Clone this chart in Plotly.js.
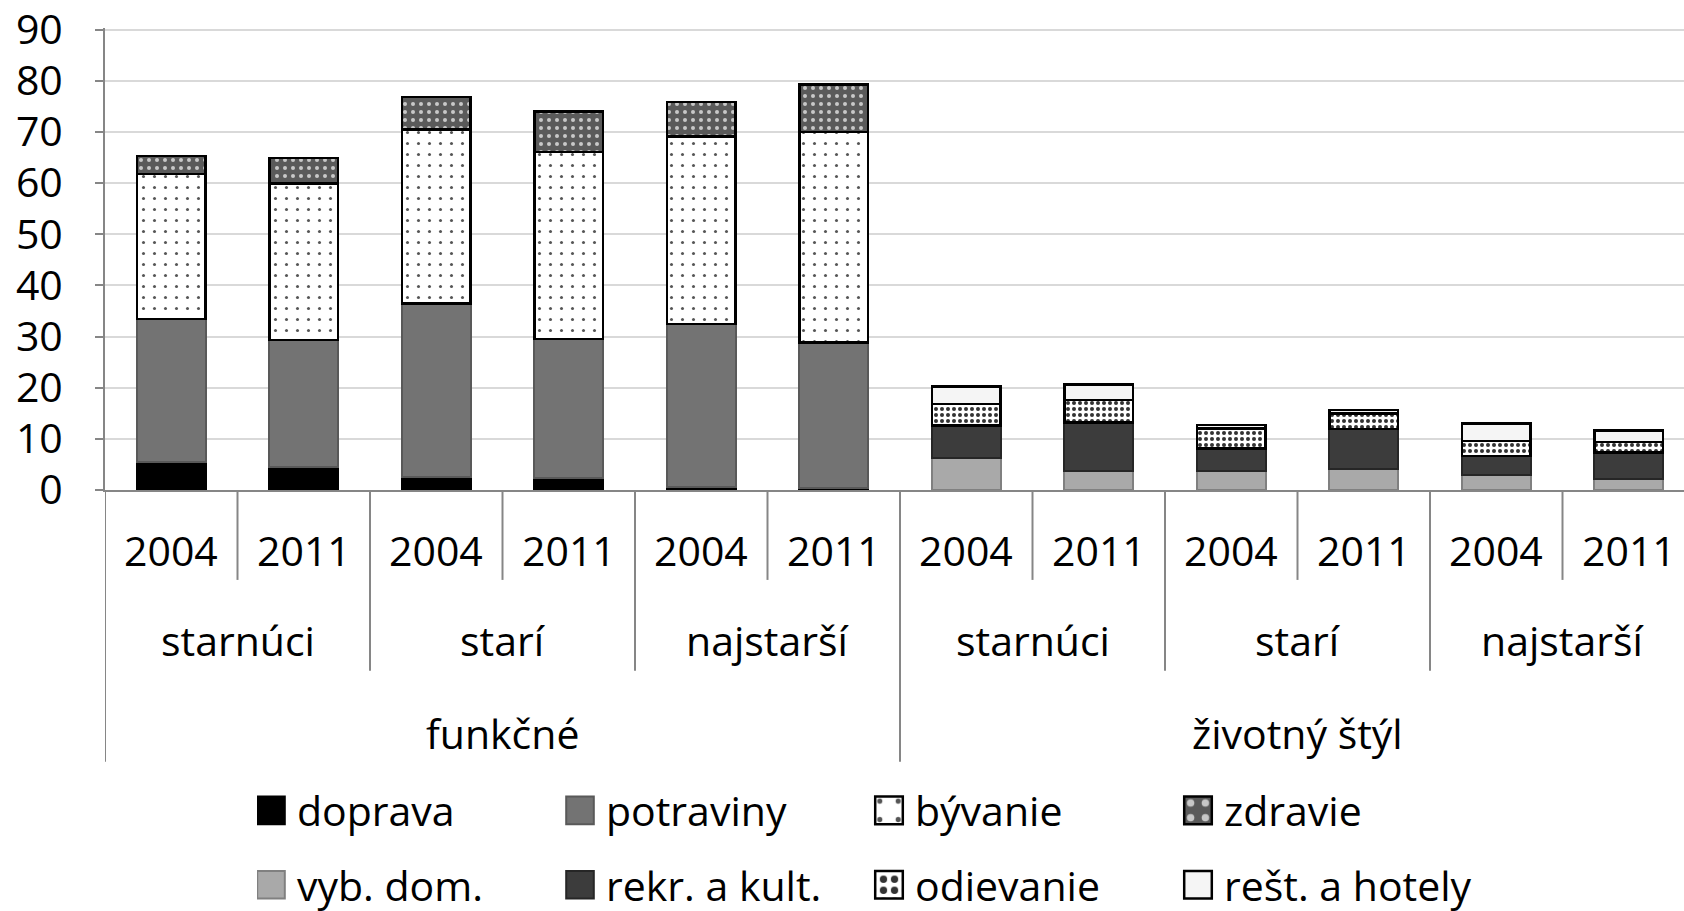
<!DOCTYPE html>
<html>
<head>
<meta charset="utf-8">
<script src="https://cdn.plot.ly/plotly-3.0.1.min.js"></script>
<style>
  html, body { margin: 0; padding: 0; overflow: hidden; background: #fff; }
  #chart { width: 1695px; height: 960px; }
</style>
</head>
<body>
<div id="chart"></div>
<script>
// categories: year / age group / type of expenditure
const years = ["2004", "2011", "2004", "2011", "2004", "2011", "2004", "2011", "2004", "2011", "2004", "2011"];
const groups = ["starnúci", "starí", "najstarší", "starnúci", "starí", "najstarší"];
const types = ["funkčné", "životný štýl"];

// series values (null where the category has no such item)
const doprava = [5.5, 4.5, 2.6, 2.3, 0.5, 0.4, null, null, null, null, null, null];
const potraviny = [27.9, 24.8, 33.9, 27.2, 31.9, 28.4, null, null, null, null, null, null];
const byvanie = [28.4, 30.6, 34.0, 36.6, 36.7, 41.2, null, null, null, null, null, null];
const zdravie = [3.5, 5.0, 6.3, 7.9, 6.7, 9.3, null, null, null, null, null, null];
const vybDom = [null, null, null, null, null, null, 6.2, 3.7, 3.7, 4.1, 2.9, 2.2];
const rekrKult = [null, null, null, null, null, null, 6.4, 9.5, 4.4, 7.8, 3.7, 5.1];
const odievanie = [null, null, null, null, null, null, 4.2, 4.4, 3.9, 3.1, 3.0, 2.1];
const restHotely = [null, null, null, null, null, null, 3.4, 3.0, 0.7, 0.6, 3.4, 2.2];
const yTicks = [0, 10, 20, 30, 40, 50, 60, 70, 80, 90];

const FONT = "Open Sans, sans-serif";
const cats = years.map((y, i) => {
  const g = groups[Math.floor(i / 2)];
  const t = types[Math.floor(i / 6)];
  return t + "|" + g + "|" + y;
});

function bar(name, values, style, legend) {
  return {
    type: "bar",
    name: name,
    x: cats,
    y: values,
    legend: legend,
    hoverinfo: "skip",
    marker: style,
  };
}

const traces = [
  bar("doprava", doprava, { color: "#000000", line: { color: "#000000", width: 2 } }, "legend"),
  bar("potraviny", potraviny, { color: "#737373", line: { color: "#595959", width: 2 } }, "legend"),
  bar("bývanie", byvanie, {
    color: "#ffffff",
    line: { color: "#000000", width: 2.5 },
    pattern: { shape: ".", fgcolor: "#555555", bgcolor: "#ffffff", size: 11, solidity: 0.06 },
  }, "legend"),
  bar("zdravie", zdravie, {
    color: "#5a5a5a",
    line: { color: "#000000", width: 2.5 },
    pattern: { shape: ".", fgcolor: "#c8c8c8", bgcolor: "#5a5a5a", size: 8, solidity: 0.2 },
  }, "legend"),
  bar("vyb. dom.", vybDom, { color: "#a9a9a9", line: { color: "#808080", width: 2 } }, "legend2"),
  bar("rekr. a kult.", rekrKult, { color: "#3c3c3c", line: { color: "#262626", width: 2 } }, "legend2"),
  bar("odievanie", odievanie, {
    color: "#ffffff",
    line: { color: "#000000", width: 2.5 },
    pattern: { shape: ".", fgcolor: "#333333", bgcolor: "#ffffff", size: 6, solidity: 0.35 },
  }, "legend2"),
  bar("rešt. a hotely", restHotely, { color: "#f5f5f5", line: { color: "#000000", width: 2.5 } }, "legend2"),
];

// axis label rows and divider lines below the plot area
const PLOT_H = 462.5;
const px = (p) => -p / PLOT_H;
const annotations = [];
const shapes = [];
const lineStyle = { color: "#868686", width: 2 };

years.forEach((y, i) => {
  annotations.push({ x: i, xref: "x", y: 0, yref: "paper", yshift: -60, text: y, showarrow: false, yanchor: "middle" });
});
groups.forEach((g, i) => {
  annotations.push({ x: i * 2 + 0.5, xref: "x", y: 0, yref: "paper", yshift: -150, text: g, showarrow: false, yanchor: "middle" });
});
types.forEach((t, i) => {
  annotations.push({ x: i * 6 + 2.5, xref: "x", y: 0, yref: "paper", yshift: -243, text: t, showarrow: false, yanchor: "middle" });
});

for (let i = 0; i <= years.length; i++) {
  const b = i - 0.5;
  let depth = 90;
  if (i % 2 === 0) depth = 181;
  if (i % 6 === 0) depth = 272;
  shapes.push({ type: "line", xref: "x", yref: "paper", x0: b, x1: b, y0: 0, y1: px(depth), line: lineStyle });
}

const legendBase = {
  orientation: "h",
  x: (257 - 105) / 1590,
  xanchor: "left",
  yanchor: "top",
  entrywidth: 264,
  entrywidthmode: "pixels",
  traceorder: "normal",
  font: { family: FONT, size: 41, color: "#000000" },
};

const layout = {
  width: 1695,
  height: 960,
  margin: { l: 105, r: 0, t: 27.5, b: 470 },
  barmode: "stack",
  bargap: 0.48,
  paper_bgcolor: "#ffffff",
  plot_bgcolor: "#ffffff",
  font: { family: FONT, size: 41, color: "#000000" },
  xaxis: {
    type: "category",
    range: [-0.5, 11.5],
    showticklabels: false,
    showgrid: false,
    showline: true,
    linecolor: "#868686",
    linewidth: 2,
    ticks: "",
    fixedrange: true,
  },
  yaxis: {
    range: [0, 90.3],
    tickvals: yTicks,
    showgrid: true,
    gridcolor: "#d9d9d9",
    gridwidth: 2,
    showline: true,
    linecolor: "#868686",
    linewidth: 2,
    ticks: "outside",
    ticklen: 8,
    tickwidth: 2,
    tickcolor: "#868686",
    ticklabelstandoff: 24,
    ticklabeloverflow: "allow",
    zeroline: false,
    tickfont: { family: FONT, size: 41, color: "#000000" },
    fixedrange: true,
  },
  legend: Object.assign({}, legendBase, { y: px(287.5) }),
  legend2: Object.assign({}, legendBase, { y: px(362) }),
  annotations: annotations,
  shapes: shapes,
};

Plotly.newPlot("chart", traces, layout, { displayModeBar: false, staticPlot: true }).then(() => {
  // enlarge the legend swatches to the size used in the original
  document.querySelectorAll(".legendpoints path").forEach((p) => {
    p.setAttribute("transform", "translate(14,0) scale(2.3)");
    p.setAttribute("vector-effect", "non-scaling-stroke");
  });
});
</script>
</body>
</html>
